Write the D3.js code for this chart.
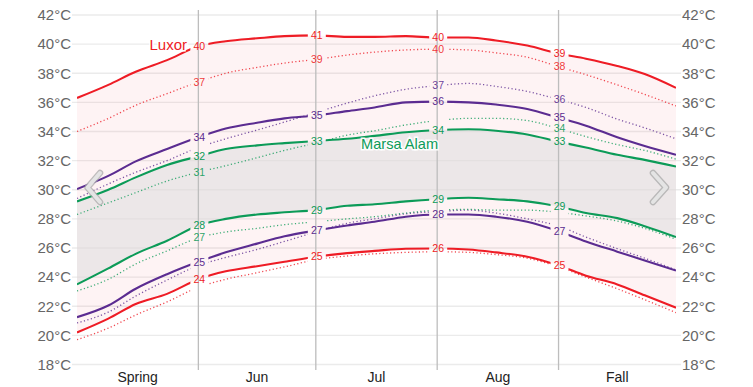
<!DOCTYPE html>
<html>
<head>
<meta charset="utf-8">
<script src="https://cdn.jsdelivr.net/npm/d3@7"></script>
<style>
  html, body { margin: 0; padding: 0; background: #fff; }
  svg { display: block; font-family: "Liberation Sans", Arial, sans-serif; }
</style>
</head>
<body>
<svg id="chart" width="753" height="387"></svg>
<script>
// ---- data ----
const periodLabels = ["Spring", "Jun", "Jul", "Aug", "Fall"];
const periodStarts = [0, 31, 61, 92, 123, 153];          // day offsets from May 1
const sampleDays = [0, 8, 15, 23, 31, 38, 46, 53, 61, 69, 76, 84, 92, 100, 107, 115, 123, 130, 138, 145, 153];
const yTicks = [18, 20, 22, 24, 26, 28, 30, 32, 34, 36, 38, 40, 42];

const luxorHigh       = [36.3, 37.2, 38.1, 38.9, 39.85, 40.2, 40.4, 40.55, 40.6, 40.5, 40.5, 40.55, 40.45, 40.45, 40.25, 39.9, 39.35, 39.0, 38.5, 37.95, 37.0];
const luxorHighDotted = [34.0, 34.9, 35.8, 36.6, 37.4, 38.0, 38.4, 38.7, 38.95, 39.25, 39.45, 39.6, 39.65, 39.6, 39.4, 39.1, 38.45, 37.9, 37.2, 36.55, 35.75];
const luxorLow        = [20.2, 21.15, 22.15, 22.85, 23.85, 24.4, 24.75, 25.05, 25.4, 25.65, 25.8, 25.95, 25.97, 25.9, 25.7, 25.4, 24.8, 24.1, 23.5, 22.75, 21.9];
const luxorLowDotted  = [19.7, 20.5, 21.4, 22.3, 23.3, 23.85, 24.3, 24.7, 25.2, 25.45, 25.6, 25.7, 25.74, 25.7, 25.55, 25.3, 24.7, 24.0, 23.2, 22.45, 21.56];
const purpleHigh       = [30.05, 30.95, 31.95, 32.8, 33.6, 34.2, 34.6, 34.9, 35.1, 35.4, 35.65, 36.0, 36.05, 36.0, 35.85, 35.55, 34.95, 34.4, 33.6, 33.0, 32.4];
const purpleHighDotted = [29.4, 30.4, 31.2, 32.0, 32.9, 33.5, 34.1, 34.65, 35.3, 35.95, 36.45, 36.9, 37.15, 37.3, 37.1, 36.75, 36.2, 35.65, 34.85, 34.25, 33.5];
const purpleLow        = [21.25, 22.05, 23.2, 24.2, 25.05, 25.7, 26.3, 26.8, 27.2, 27.55, 27.8, 28.15, 28.3, 28.3, 28.15, 27.8, 27.15, 26.45, 25.75, 25.15, 24.45];
const purpleLowDotted  = [20.85, 21.6, 22.7, 23.8, 24.8, 25.35, 25.9, 26.45, 27.1, 27.7, 28.0, 28.35, 28.5, 28.6, 28.4, 28.0, 27.5, 26.75, 25.95, 25.3, 24.5];
const marsaHigh       = [29.2, 30.0, 30.85, 31.7, 32.3, 32.8, 33.05, 33.2, 33.35, 33.5, 33.7, 33.95, 34.1, 34.15, 34.05, 33.8, 33.3, 32.9, 32.4, 32.05, 31.6];
const marsaHighDotted = [28.3, 29.1, 29.8, 30.6, 31.2, 31.65, 32.2, 32.7, 33.2, 33.75, 34.05, 34.45, 34.75, 34.9, 34.9, 34.75, 34.2, 33.65, 33.1, 32.7, 32.1];
const marsaLow        = [23.5, 24.6, 25.6, 26.5, 27.55, 28.0, 28.3, 28.45, 28.6, 28.9, 29.0, 29.2, 29.35, 29.45, 29.35, 29.2, 28.85, 28.4, 28.05, 27.5, 26.75];
const marsaLowDotted  = [23.05, 23.85, 24.9, 25.8, 26.7, 27.1, 27.35, 27.6, 27.8, 28.0, 28.15, 28.4, 28.6, 28.65, 28.6, 28.6, 28.45, 28.2, 27.85, 27.35, 26.6];

// which of the 4 inner boundaries show a value label
const series = [
  { values: luxorHigh,        color: "#ee1c25", dotted: false, show: [1,1,1,1] },
  { values: luxorHighDotted,  color: "#ee1c25", dotted: true,  show: [1,1,1,1] },
  { values: luxorLow,         color: "#ee1c25", dotted: false, show: [1,1,1,1] },
  { values: luxorLowDotted,   color: "#ee1c25", dotted: true,  show: [0,0,0,0] },
  { values: purpleHigh,       color: "#5b2c91", dotted: false, show: [1,1,1,1] },
  { values: purpleHighDotted, color: "#5b2c91", dotted: true,  show: [0,0,1,1] },
  { values: purpleLow,        color: "#5b2c91", dotted: false, show: [1,1,1,1] },
  { values: purpleLowDotted,  color: "#5b2c91", dotted: true,  show: [0,0,0,0] },
  { values: marsaHigh,        color: "#0c9b58", dotted: false, show: [1,1,1,1] },
  { values: marsaHighDotted,  color: "#0c9b58", dotted: true,  show: [1,0,0,1] },
  { values: marsaLow,         color: "#0c9b58", dotted: false, show: [1,1,1,1] },
  { values: marsaLowDotted,   color: "#0c9b58", dotted: true,  show: [1,0,0,0] }
];

// ---- layout ----
const svg = d3.select("#chart");
const x = d3.scaleLinear().domain([0, 153]).range([77, 676]);
const y = d3.scaleLinear().domain([18, 42]).range([364.5, 15]);
const plotTop = 10, plotBottom = 370;

// grid lines
svg.append("g").selectAll("line").data(yTicks).join("line")
  .attr("x1", 72).attr("x2", 681)
  .attr("y1", d => y(d)).attr("y2", d => y(d))
  .attr("stroke", "#ebebeb").attr("stroke-width", 1.3);

// y labels left & right
const yLeft = d3.axisLeft(y).tickValues(yTicks).tickSize(0).tickPadding(0).tickFormat(d => d + "°C");
const gl = svg.append("g").attr("transform", "translate(71,0)").call(yLeft);
const yRight = d3.axisRight(y).tickValues(yTicks).tickSize(0).tickPadding(0).tickFormat(d => d + "°C");
const gr = svg.append("g").attr("transform", "translate(682,0)").call(yRight);
[gl, gr].forEach(g => {
  g.select(".domain").remove();
  g.selectAll("text").attr("font-size", 15).attr("fill", "#666")
    .attr("font-family", "Liberation Sans, Arial, sans-serif");
});

// bands
const area = (hi, lo) => d3.area().curve(d3.curveMonotoneX)
  .x((d, i) => x(sampleDays[i])).y0((d, i) => y(lo[i])).y1((d, i) => y(hi[i]))(hi);
svg.append("path").attr("d", area(luxorHigh, luxorLow)).attr("fill", "#ee1c25").attr("fill-opacity", 0.05);
svg.append("path").attr("d", area(marsaHigh, marsaLow)).attr("fill", "#e0e0e0").attr("fill-opacity", 0.6);

// x-axis labels (centered on each period)
const mid = periodLabels.map((p, i) => (periodStarts[i] + periodStarts[i + 1]) / 2);
svg.append("g").selectAll("text").data(periodLabels).join("text")
  .attr("x", (d, i) => x(mid[i])).attr("y", 382)
  .attr("text-anchor", "middle").attr("font-size", 14).attr("fill", "#222")
  .text(d => d);

// clip path leaving gaps at period boundaries
const bounds = periodStarts.slice(1, -1);
const gapHalf = 9;
const clip = svg.append("defs").append("clipPath").attr("id", "gaps");
const edges = [x(0)].concat(...bounds.map(b => [x(b) + 1 - gapHalf, x(b) + 1 + gapHalf])).concat([x(153)]);
for (let i = 0; i < edges.length; i += 2) {
  clip.append("rect").attr("x", edges[i]).attr("y", 0)
    .attr("width", edges[i + 1] - edges[i]).attr("height", 387);
}

// boundary separators
svg.append("g").selectAll("line").data(bounds).join("line")
  .attr("x1", d => x(d)).attr("x2", d => x(d))
  .attr("y1", plotTop).attr("y2", plotBottom)
  .attr("stroke", "#bdbdbd").attr("stroke-width", 1.3);

// lines
const line = d3.line().curve(d3.curveMonotoneX)
  .x((d, i) => x(sampleDays[i])).y(d => y(d));
const lg = svg.append("g").attr("clip-path", "url(#gaps)");
series.filter(s => s.dotted).concat(series.filter(s => !s.dotted)).forEach(s => {
  lg.append("path").attr("d", line(s.values)).attr("fill", "none")
    .attr("stroke", s.color)
    .attr("stroke-width", s.dotted ? 1.3 : 2.1)
    .attr("stroke-opacity", s.dotted ? 0.8 : 1)
    .attr("stroke-dasharray", s.dotted ? "1.2,2.4" : null);
});

// value labels at boundaries
const lab = svg.append("g").attr("font-size", 10.5).attr("text-anchor", "middle");
series.forEach(s => {
  bounds.forEach((b, k) => {
    if (!s.show[k]) return;
    const i = sampleDays.indexOf(b);
    lab.append("text").attr("x", x(b) + 1).attr("y", y(s.values[i]))
      .attr("dy", "0.35em").attr("fill", s.color)
      .attr("fill-opacity", s.dotted ? 0.9 : 1)
      .text(Math.round(s.values[i]));
  });
});

// place names
svg.append("text").attr("x", 187).attr("y", 49.5).attr("text-anchor", "end")
  .attr("font-size", 15).attr("fill", "#ee1c25")
  .attr("stroke", "#fff").attr("stroke-width", 3).attr("paint-order", "stroke")
  .text("Luxor");
svg.append("text").attr("x", 361).attr("y", 148.5).attr("text-anchor", "start")
  .attr("font-size", 14.6).attr("fill", "#0c9b58")
  .attr("stroke", "#fff").attr("stroke-width", 3).attr("stroke-opacity", 0.9).attr("paint-order", "stroke")
  .text("Marsa Alam");

// navigation chevrons
const chev = [
  [[100, 173], [87.5, 187.5], [100, 202]],
  [[653, 173], [666, 187.5], [653, 202]]
];
const cl = d3.line();
chev.forEach(c => {
  svg.append("path").attr("d", cl(c)).attr("fill", "none")
    .attr("stroke", "#a8a8a8").attr("stroke-width", 6.5)
    .attr("stroke-linecap", "round").attr("stroke-linejoin", "round").attr("stroke-opacity", 0.75);
  svg.append("path").attr("d", cl(c)).attr("fill", "none")
    .attr("stroke", "#e4e4e4").attr("stroke-width", 4)
    .attr("stroke-linecap", "round").attr("stroke-linejoin", "round");
});
</script>
</body>
</html>
